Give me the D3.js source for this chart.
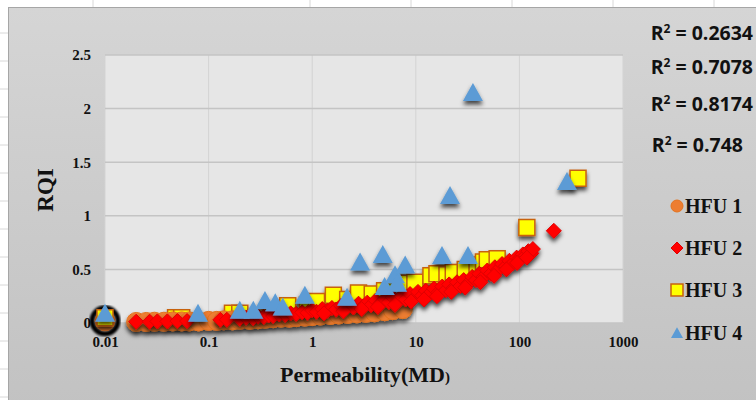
<!DOCTYPE html>
<html>
<head>
<meta charset="utf-8">
<script src="https://cdn.jsdelivr.net/npm/d3@7"></script>
<style>
  body { margin: 0; background: #fff; }
  svg { display: block; }
</style>
</head>
<body>
<script>
var w = 756, h = 400;

// data: [permeability (mD), RQI]
var hfu1 = [[0.02,0.01],[0.025,0.01],[0.03,0.012],[0.037,0.012],[0.045,0.015],[0.055,0.015],
  [0.065,0.015],[0.08,0.015],[0.1,0.02],[0.12,0.02],[0.14,0.025],[0.17,0.025],[0.2,0.03],
  [0.25,0.03],[0.3,0.035],[0.35,0.04],[0.42,0.045],[0.5,0.05],[0.6,0.05],[0.7,0.055],
  [0.85,0.06],[1.0,0.065],[1.2,0.07],[1.5,0.075],[1.8,0.08],[2.2,0.085],[2.7,0.09],
  [3.3,0.095],[4,0.1],[5,0.11],[6,0.12],[7.5,0.13]];
var hfu1Marked = [[0.01,0.02]];
var hfu2 = [[0.02,0.012],[0.027,0.012],[0.032,0.015],[0.04,0.015],[0.05,0.018],[0.062,0.018],
  [0.13,0.03],[0.15,0.03],[0.2,0.04],[0.23,0.05],[0.27,0.045],[0.3,0.06],[0.34,0.055],
  [0.38,0.07],[0.42,0.065],[0.48,0.08],[0.55,0.075],[0.62,0.09],[0.7,0.085],[0.8,0.1],
  [0.9,0.095],[1.0,0.12],[1.1,0.105],[1.25,0.13],[1.4,0.115],[1.55,0.14],[1.7,0.125],
  [1.9,0.16],[2.1,0.135],[2.3,0.17],[2.5,0.145],[2.8,0.18],[3.1,0.155],[3.4,0.19],
  [3.7,0.165],[4.1,0.21],[4.5,0.18],[5,0.22],[5.5,0.195],[6,0.24],[6.6,0.205],[7.3,0.25],
  [8,0.22],[8.8,0.27],[9.7,0.235],[10.5,0.29],[11.5,0.255],[12.5,0.3],[13.5,0.27],
  [15,0.32],[16.5,0.285],[18,0.34],[19.5,0.305],[21,0.36],[23,0.325],[25,0.38],[27,0.345],
  [29,0.4],[32,0.37],[35,0.43],[38,0.4],[41,0.46],[45,0.43],[49,0.49],[53,0.46],
  [58,0.52],[63,0.5],[68,0.55],[74,0.53],[80,0.58],[87,0.56],[94,0.61],[100,0.6],
  [108,0.64],[115,0.63],[122,0.67],[130,0.65],[135,0.69],[215,0.86],
  [1.3,0.09],[2,0.11],[3,0.13],[4.3,0.15],[6.3,0.17],[9,0.2],[12,0.22],[16,0.25],
  [22,0.29],[30,0.33],[42,0.38],[57,0.44],[75,0.5],[95,0.56],[118,0.61]];
var hfu3 = [[0.01,0.05],[0.048,0.05],[0.055,0.05],[0.17,0.09],[0.2,0.09],[0.58,0.16],
  [0.9,0.17],[1.1,0.2],[1.6,0.26],[2.2,0.22],[2.8,0.28],[3.8,0.27],[5,0.3],[8.2,0.37],
  [9.8,0.38],[14,0.44],[16,0.46],[20,0.45],[23,0.47],[30,0.5],[39,0.54],[45,0.57],
  [49,0.59],[61,0.6],[118,0.89],[368,1.35]];
var hfu4 = [[0.01,0.09],[0.079,0.09],[0.2,0.12],[0.27,0.12],[0.35,0.21],[0.44,0.19],
  [0.52,0.15],[0.85,0.26],[2.17,0.24],[2.9,0.57],[4.8,0.64],[5,0.34],[6.3,0.45],
  [6.6,0.37],[7.9,0.54],[17.9,0.63],[21.4,1.19],[31.9,0.63],[35.6,2.15],[288,1.32]];

var seriesNames = ["HFU 1", "HFU 2", "HFU 3", "HFU 4"];
var r2Labels = ["0.2634", "0.7078", "0.8174", "0.748"];
var xTicks = [0.01, 0.1, 1, 10, 100, 1000];
var xTickLabels = ["0.01", "0.1", "1", "10", "100", "1000"];
var yTicks = [0, 0.5, 1, 1.5, 2, 2.5];
var yTickLabels = ["0", "0.5", "1", "1.5", "2", "2.5"];

var serif = "'Liberation Serif', 'DejaVu Serif', serif";

var svg = d3.select('body').append('svg').attr('width', w).attr('height', h);
var defs = svg.append('defs');

var bg = defs.append('linearGradient').attr('id', 'bg')
  .attr('x1', 0).attr('y1', 0).attr('x2', 0).attr('y2', 1);
bg.append('stop').attr('offset', 0).attr('stop-color', '#d5d5d5');
bg.append('stop').attr('offset', 1).attr('stop-color', '#c2c2c2');

var shadow = defs.append('filter').attr('id', 'shadow')
  .attr('x', '-20%').attr('y', '-20%').attr('width', '140%').attr('height', '150%');
shadow.append('feDropShadow').attr('dx', 0).attr('dy', 3.5).attr('stdDeviation', 2.2)
  .attr('flood-color', '#000').attr('flood-opacity', 0.7);

var blur = defs.append('filter').attr('id', 'blur');
blur.append('feGaussianBlur').attr('stdDeviation', 1.3);

// sheet frame round the chart
var sheetCols = [93, 310, 411, 512, 613, 714];
svg.selectAll('line.col').data(sheetCols).enter().append('line')
  .attr('x1', d => d).attr('x2', d => d).attr('y1', 0).attr('y2', 7)
  .style('stroke', '#d8d8d8');
svg.selectAll('line.row').data(d3.range(33, 400, 28)).enter().append('line')
  .attr('x1', 0).attr('x2', 8).attr('y1', d => d).attr('y2', d => d)
  .style('stroke', '#d8d8d8');

svg.append('rect').attr('x', 8.5).attr('y', 7.5).attr('width', w).attr('height', h)
  .style('fill', 'url(#bg)').style('stroke', '#a6a6a6');

// plot area
var x = d3.scaleLog().domain([0.01, 1000]).range([105, 623]);
var y = d3.scaleLinear().domain([0, 2.5]).range([323, 55]);

svg.append('rect').attr('x', 105).attr('y', 55).attr('width', 518).attr('height', 268)
  .style('fill', '#e6e6e6');

svg.selectAll('line.vgrid').data(xTicks).enter().append('line')
  .attr('x1', d => x(d)).attr('x2', d => x(d)).attr('y1', 55).attr('y2', 323)
  .style('stroke', '#d3d3d3').style('stroke-width', 1);
svg.selectAll('line.hgrid').data(yTicks).enter().append('line')
  .attr('x1', 105).attr('x2', 623).attr('y1', d => y(d)).attr('y2', d => y(d))
  .style('stroke', '#c4c4c4').style('stroke-width', 1.5);

var xAxis = svg.append('g').attr('transform', 'translate(0,323)')
  .call(d3.axisBottom(x).tickValues(xTicks).tickSize(0).tickPadding(13)
    .tickFormat((d, i) => xTickLabels[i]));
var yAxis = svg.append('g').attr('transform', 'translate(105,0)')
  .call(d3.axisLeft(y).tickValues(yTicks).tickSize(0).tickPadding(14)
    .tickFormat((d, i) => yTickLabels[i]));
[xAxis, yAxis].forEach(function (a) {
  a.select('.domain').remove();
  a.selectAll('text').style('font-family', serif).style('font-weight', 'bold')
    .style('font-size', '15px').style('fill', '#111');
});

svg.append('text').text('RQI')
  .attr('transform', 'translate(53,190) rotate(-90)')
  .attr('text-anchor', 'middle')
  .style('font-family', serif).style('font-weight', 'bold').style('font-size', '23px')
  .style('fill', '#111');

var xl = svg.append('text').attr('x', 365).attr('y', 382).attr('text-anchor', 'middle')
  .style('font-family', serif).style('font-weight', 'bold').style('font-size', '22px')
  .style('fill', '#111');
xl.append('tspan').text('Permeability(MD');
xl.append('tspan').text(')').style('font-size', '15px');

// marker shapes
function circle(s) { var r = s / 2; return 'M' + (-r) + ',0A' + r + ',' + r + ' 0 1,0 ' + r + ',0A' + r + ',' + r + ' 0 1,0 ' + (-r) + ',0Z'; }
function diamond(s) { var r = s / 2; return 'M0,' + (-r) + 'L' + r + ',0L0,' + r + 'L' + (-r) + ',0Z'; }
function square(s) { var r = s / 2; return 'M' + (-r) + ',' + (-r) + 'H' + r + 'V' + r + 'H' + (-r) + 'Z'; }
function triangle(s) { var r = s / 2; return 'M0,' + (-r * 0.95) + 'L' + r + ',' + (r * 0.85) + 'H' + (-r) + 'Z'; }

var styles = [
  { shape: circle, size: 19, fill: '#ED7D31', stroke: '#E4731F', sw: 1 },
  { shape: diamond, size: 15, fill: '#FF0000', stroke: '#E00000', sw: 1 },
  { shape: square, size: 16, fill: '#FFFF00', stroke: '#C8620E', sw: 1.5 },
  { shape: triangle, size: 20, fill: '#5B9BD5', stroke: 'none', sw: 0 }
];
var allData = [hfu1, hfu2, hfu3, hfu4];

// highlighted first point of HFU 1
svg.append('circle').attr('cx', x(hfu1Marked[0][0])).attr('cy', y(hfu1Marked[0][1]))
  .attr('r', 13).style('fill', 'none').style('stroke', '#000').style('stroke-width', 5)
  .attr('filter', 'url(#blur)');
svg.append('path').attr('d', circle(21))
  .attr('transform', 'translate(' + x(hfu1Marked[0][0]) + ',' + y(hfu1Marked[0][1]) + ')')
  .style('fill', '#ED7D31');

[2, 0, 1, 3].forEach(function (i) {
  var st = styles[i];
  svg.append('g').attr('filter', 'url(#shadow)')
    .selectAll('path').data(allData[i]).enter().append('path')
    .attr('d', st.shape(st.size))
    .attr('transform', d => 'translate(' + x(d[0]) + ',' + y(d[1]) + ')')
    .style('fill', st.fill).style('stroke', st.stroke).style('stroke-width', st.sw);
});

// R² labels
var r2y = [40, 74, 111, 152];
var r2 = svg.selectAll('text.r2').data(r2Labels).enter().append('text')
  .attr('x', (d, i) => i === 3 ? 743 : 753).attr('y', (d, i) => r2y[i])
  .attr('text-anchor', 'end')
  .style('font-family', "'Open Sans', 'Noto Sans', sans-serif").style('font-weight', 'bold')
  .style('font-size', '19.5px').style('fill', '#111');
r2.append('tspan').text('R');
r2.append('tspan').text('2').attr('dy', -7).style('font-size', '12px');
r2.append('tspan').text(d => ' = ' + d).attr('dy', 7);

// legend
var legY = [206, 248, 290, 333];
var leg = svg.selectAll('g.leg').data(seriesNames).enter().append('g')
  .attr('transform', (d, i) => 'translate(677,' + legY[i] + ')');
leg.append('path').attr('d', (d, i) => styles[i].shape(12))
  .style('fill', (d, i) => styles[i].fill).style('stroke', (d, i) => styles[i].stroke)
  .style('stroke-width', (d, i) => styles[i].sw);
leg.append('text').text(d => d).attr('x', 8).attr('dy', '0.35em')
  .style('font-family', serif).style('font-weight', 'bold').style('font-size', '20px')
  .style('fill', '#111');
</script>
</body>
</html>
